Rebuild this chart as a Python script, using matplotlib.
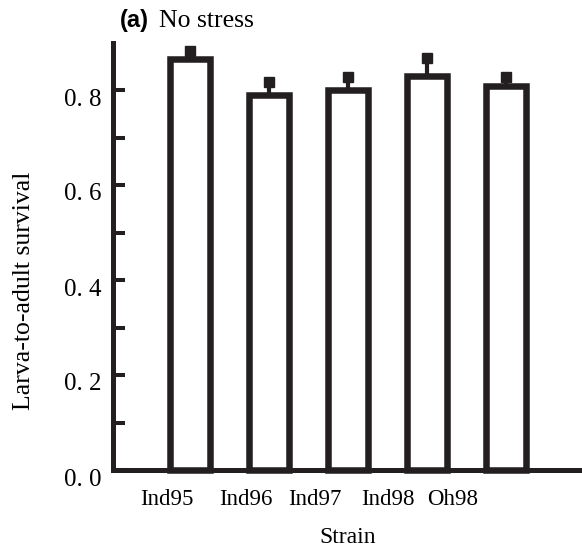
import matplotlib
matplotlib.use("Agg")
import matplotlib.pyplot as plt
import matplotlib.transforms as mtransforms

# data
strains = ["Ind95", "Ind96", "Ind97", "Ind98", "Oh98"]
survival = [0.865, 0.789, 0.800, 0.829, 0.808]
err_up = [0.017, 0.028, 0.028, 0.039, 0.020]
label_pos = [-0.29, 0.71, 1.58, 2.51, 3.32]   # labels sit left of the bars
yticks = [0.0, 0.2, 0.4, 0.6, 0.8]
yticklabels = ["0. 0", "0. 2", "0. 4", "0. 6", "0. 8"]
yminor = [0.1, 0.3, 0.5, 0.7]

ink = "#231f20"
serif = "Liberation Serif"

fig = plt.figure(figsize=(5.82, 5.49), dpi=100)
ax = fig.add_axes([113/582, 79/549, 469/582, 427.5/549])

x = list(range(len(strains)))
ax.bar(x, survival, width=0.5, color="white", edgecolor=ink,
       linewidth=4.7, clip_on=False, zorder=3)
ax.errorbar(x, survival, yerr=[[0]*len(x), err_up], fmt="none",
            ecolor=ink, elinewidth=3, capsize=0, zorder=4)
tops = [s + e for s, e in zip(survival, err_up)]
ax.plot(x, tops, ls="none", marker="s", ms=7, mfc=ink, mec=ink, zorder=5)

ax.set_xlim(-0.975, 4.96)
ax.set_ylim(0, 0.9)

for s in ["top", "right"]:
    ax.spines[s].set_visible(False)
for s in ["left", "bottom"]:
    ax.spines[s].set_linewidth(3.6)
    ax.spines[s].set_color(ink)
    ax.spines[s].set_capstyle("projecting")

ax.set_yticks(yticks)
ax.set_yticklabels(yticklabels, fontsize=18, family=serif)
ax.set_yticks(yminor, minor=True)
ax.tick_params(axis="y", which="both", direction="in", length=8.6, width=2.9,
               color=ink, pad=8)
off = mtransforms.ScaledTranslation(0, -0.07, fig.dpi_scale_trans)
for lab in ax.get_yticklabels():
    lab.set_transform(lab.get_transform() + off)

ax.set_xticks(label_pos)
ax.set_xticklabels(strains, fontsize=16.5, family=serif)
ax.tick_params(axis="x", length=0, pad=14)

ax.set_xlabel("Strain", fontsize=17, family=serif, labelpad=12)
ax.set_ylabel("Larva-to-adult survival", fontsize=18.5, family=serif)
ax.yaxis.set_label_coords(-0.167, 0.42)

fig.text(120/582, 1 - 27/549, "(a)", fontsize=17, fontweight="bold",
         family="Liberation Sans", va="baseline", ha="left")
fig.text(159/582, 1 - 27/549, "No stress", fontsize=18.5, family=serif,
         va="baseline", ha="left")

fig.savefig("out.png", dpi=100)
